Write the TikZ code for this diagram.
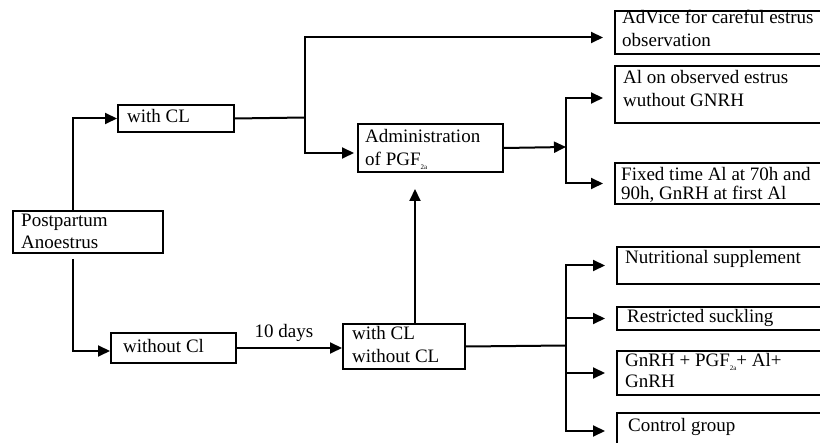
\documentclass[tikz,border=0pt]{standalone}
\usepackage{fontspec}
\setmainfont{Liberation Serif}
\usetikzlibrary{arrows.meta}
\newcommand{\tinysub}[1]{\raisebox{-3.5pt}{\fontsize{7}{7}\selectfont #1}}
\begin{document}
\begin{tikzpicture}[x=1pt,y=-1pt,
  box/.style={draw,line width=2pt,inner sep=0pt,anchor=north west},
  txt/.style={inner sep=0pt,anchor=base west,font=\fontsize{19}{22}\selectfont},
  conn/.style={line width=2pt},
  arr/.style={conn,-{Triangle[length=12pt,width=11pt]}},
  farr/.style={arr,shorten >=11pt}]
\useasboundingbox (0,0) rectangle (820,443);
\clip (0,0) rectangle (820,443);
% boxes
\node[box,minimum width=150pt,minimum height=42pt] (pp) at (12,210) {};
\node[box,minimum width=116pt,minimum height=27pt] (wcl) at (117,104) {};
\node[box,minimum width=145pt,minimum height=48pt] (adm) at (357,123) {};
\node[box,minimum width=216pt,minimum height=43pt] (adv) at (614,10) {};
\node[box,minimum width=216pt,minimum height=57pt] (aio) at (614,65) {};
\node[box,minimum width=216pt,minimum height=41pt] (fix) at (614,162) {};
\node[box,minimum width=125pt,minimum height=30pt] (wocl) at (110,332) {};
\node[box,minimum width=122pt,minimum height=45pt] (mid) at (342,323) {};
\node[box,minimum width=214pt,minimum height=37pt] (nut) at (616,246) {};
\node[box,minimum width=214pt,minimum height=23pt] (res) at (616,306) {};
\node[box,minimum width=214pt,minimum height=44pt] (gnr) at (616,350) {};
\node[box,minimum width=214pt,minimum height=34pt] (ctl) at (616,412) {};
% texts
\node[txt] (pp1) at (21,227) {Postpartum};
\node[txt] (pp2) at (21,249) {Anoestrus};
\node[txt] (wcl1) at (127,123) {with CL};
\node[txt] (adm1) at (365,143) {Administration};
\node[txt] (adm2) at (365,166) {of PGF\tinysub{2a}};
\node[txt] (adv1) at (622,24) {AdVice for careful estrus};
\node[txt] (adv2) at (622,47) {observation};
\node[txt] (aio1) at (623,84) {Al on observed estrus};
\node[txt] (aio2) at (623,107) {wuthout GNRH};
\node[txt] (fix1) at (621,181) {Fixed time Al at 70h and};
\node[txt] (fix2) at (621,200) {90h, GnRH at first Al};
\node[txt] (wocl1) at (123,353) {without Cl};
\node[txt] (mid1) at (352,340) {with CL};
\node[txt] (mid2) at (352,363) {without CL};
\node[txt] (nut1) at (625,264) {Nutritional supplement};
\node[txt] (res1) at (627,323) {Restricted suckling};
\node[txt] (gnr1) at (625,367) {GnRH + PGF\tinysub{2a}+ Al+};
\node[txt] (gnr2) at (625,388) {GnRH};
\node[txt] (ctl1) at (628,432) {Control group};
\node[txt,anchor=base] (days) at (284,338) {10 days};
% junction coordinates
\coordinate (xa) at (73,0);
\coordinate (jb) at (305,117.5);
\coordinate (jc) at (566,147);
\coordinate (xv) at (415,0);
\coordinate (jd) at (566,345.5);
% connectors
\draw[arr] (pp.north -| xa) |- (wcl.west);
\draw[arr] ([yshift=-5pt]pp.south -| xa) |- ([yshift=-3pt]wocl.west);
\draw[conn] (wcl.east) -- (jb);
\draw[farr] (jb) |- ([yshift=-5pt]adv.west);
\draw[arr,shorten >=3pt] (jb) |- ([yshift=-5pt]adm.west);
\draw[arr] (adm.east) -- (jc);
\draw[farr] (jc) |- ([yshift=-3.5pt]aio.west);
\draw[farr] (jc) |- (fix.west);
\draw[arr] (wocl.east) -- (wocl.east -| mid.west);
\draw[arr,shorten >=16pt] (mid.north -| xv) -- (adm.south -| xv);
\draw[conn] (mid.east) -- (jd);
\draw[farr] (jd) |- (nut.west);
\draw[farr] (jd) |- (res.west);
\draw[farr] (jd) |- (gnr.west);
\draw[farr] (jd) |- ([yshift=-1pt]ctl.west);
\end{tikzpicture}
\end{document}
